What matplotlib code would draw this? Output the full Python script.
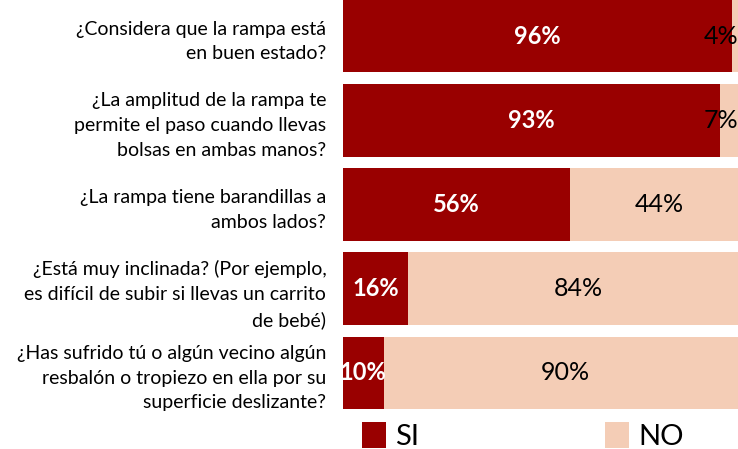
import matplotlib.pyplot as plt

preguntas = [
    '¿Considera que la rampa está\nen buen estado?',
    '¿La amplitud de la rampa te\npermite el paso cuando llevas\nbolsas en ambas manos?',
    '¿La rampa tiene barandillas a\nambos lados?',
    '¿Está muy inclinada? (Por ejemplo,\nes difícil de subir si llevas un carrito\nde bebé)',
    '¿Has sufrido tú o algún vecino algún\nresbalón o tropiezo en ella por su\nsuperficie deslizante?',
]
si = [96, 93, 56, 16, 10]
no = [4, 7, 44, 84, 90]

cor_si = '#990000'
cor_no = '#F4CDB6'

plt.rcParams['font.family'] = ['Lato', 'DejaVu Sans']

fig = plt.figure(figsize=(7.38, 4.49), dpi=100)
# a barra de 100% passa da borda direita (igual ao original)
ax = fig.add_axes([343 / 738, 1 - 409 / 449, 405 / 738, 409 / 449])

pos = list(range(len(preguntas)))
ax.barh(pos, si, height=0.86, color=cor_si, label='SI')
ax.barh(pos, no, left=si, height=0.86, color=cor_no, label='NO')

for i in pos:
    ax.text(si[i] / 2, i, f'{si[i]}%', color='white', fontsize=17,
            fontweight='bold', ha='center', va='center')
    if no[i] < 10:
        # rotulo pequeno encostado na borda da figura
        ax.text(97.6, i, f'{no[i]}%', color='black', fontsize=18,
                ha='right', va='center')
    else:
        ax.text(si[i] + no[i] / 2, i, f'{no[i]}%', color='black', fontsize=18,
                ha='center', va='center')

ax.set_xlim(0, 100)
ax.set_ylim(4.43, -0.43)
ax.set_yticks(pos)
ax.set_yticklabels(preguntas, fontsize=14, linespacing=1.55)
ax.tick_params(axis='y', length=0, pad=12)
ax.set_xticks([])
for s in ax.spines.values():
    s.set_visible(False)

fig.legend(loc='lower left', bbox_to_anchor=(347 / 738, -0.035), ncol=2,
           frameon=False, fontsize=21, handlelength=0.83, handleheight=1.0,
           handletextpad=0.3, columnspacing=6.4, borderpad=0)

plt.savefig('out.png', dpi=100)
